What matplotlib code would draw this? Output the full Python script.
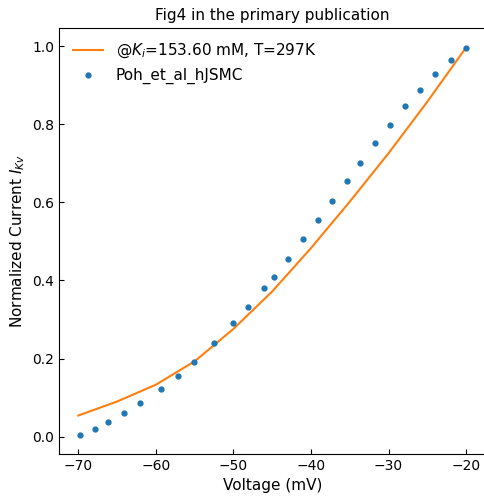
import matplotlib
matplotlib.use("Agg")
import matplotlib.pyplot as plt

# simulated steady-state Kv current (normalized), evaluated every 5 mV
v_model = [-70, -65, -60, -55, -50, -45, -40, -35, -30, -25, -20]
i_model = [0.054, 0.090, 0.133, 0.193, 0.276, 0.372, 0.483, 0.602, 0.726, 0.858, 0.997]

# experimental points, Poh et al. hJSMC
v_exp = [-69.78, -67.90, -66.23, -64.09, -61.99, -59.37, -57.11, -55.09, -52.52,
         -50.04, -48.11, -46.09, -44.77, -42.92, -40.99, -39.06, -37.31, -35.42,
         -33.66, -31.74, -29.86, -27.84, -25.91, -23.95, -21.93, -20.0]
i_exp = [0.005, 0.020, 0.038, 0.060, 0.085, 0.123, 0.156, 0.192, 0.239,
         0.292, 0.333, 0.380, 0.409, 0.456, 0.506, 0.556, 0.603, 0.655,
         0.702, 0.751, 0.799, 0.846, 0.889, 0.929, 0.964, 0.995]

fig = plt.figure(figsize=(4.85, 4.97), dpi=100)
ax = fig.add_axes([0.1216, 0.0865, 0.8794, 0.857])

ax.plot(v_model, i_model, color='tab:orange', label=r'@$K_i$=153.60 mM, T=297K')
ax.plot(v_exp, i_exp, 'o', color='tab:blue', markersize=3.5, label='Poh_et_al_hJSMC')

ax.set_title('Fig4 in the primary publication', fontsize=11)
ax.set_xlabel('Voltage (mV)', fontsize=11)
ax.set_ylabel(r'Normalized Current $I_{Kv}$', fontsize=11)
ax.tick_params(direction='in')
ax.legend(loc='upper left', frameon=False, fontsize=11)

fig.savefig('out.png', dpi=100)
